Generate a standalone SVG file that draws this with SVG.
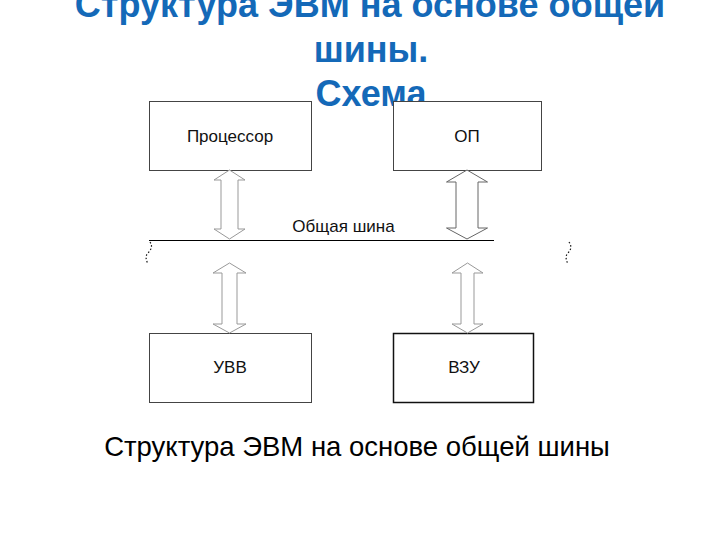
<svg xmlns="http://www.w3.org/2000/svg" width="720" height="540" viewBox="0 0 720 540">
<style>
.title{font-family:"Liberation Sans",Arial,sans-serif;font-weight:bold;font-size:36px;fill:#1469B8;text-anchor:middle}
.box{fill:#fff;stroke:#444;stroke-width:1}
.lbl{font-family:"Liberation Sans",Arial,sans-serif;font-size:17px;fill:#111;text-anchor:middle}
.arr{fill:#fff;stroke:#999;stroke-width:1}
.sq{fill:none;stroke:#111;stroke-width:1.2;stroke-dasharray:1.5 2}
</style>
<rect width="720" height="540" fill="#fff"/>
<g id="title">
<text class="title" x="370" y="17">Структура ЭВМ на основе общей</text>
<text class="title" x="371" y="62">шины.</text>
<text class="title" x="371" y="106">Схема</text>
</g>
<g id="processor"><rect class="box" x="149.5" y="101.5" width="162" height="69"/><text class="lbl" x="230" y="142">Процессор</text></g>
<g id="op"><rect class="box" x="393.5" y="101.5" width="148" height="69"/><text class="lbl" x="467" y="142">ОП</text></g>
<g id="uvv"><rect class="box" x="149.5" y="333.5" width="162" height="69"/><text class="lbl" x="230" y="373">УВВ</text></g>
<g id="vzu"><rect class="box" x="393.5" y="333.5" width="140" height="69" style="stroke:#111;stroke-width:1.5"/><text class="lbl" x="464" y="373">ВЗУ</text></g>
<g id="bus">
<line x1="149" y1="240.5" x2="494" y2="240.5" stroke="#000" stroke-width="1.2"/>
<text class="lbl" x="343.5" y="232">Общая шина</text>
<path class="sq" d="M150,242 C153,246 151,250 148,253 C145,256 146,260 148,264"/>
<path class="sq" d="M569,242 C572,246 571,250 568,253 C565,256 566,260 568,264"/>
</g>
<g id="connectors">
<path class="arr" d="M229.5,170 L245,180 L238,180 L238,229 L245,229 L229.5,239 L214,229 L221,229 L221,180 L214,180 Z"/>
<path class="arr" style="stroke:#666" d="M467,170 L487.5,182 L478,182 L478,228 L487.5,228 L467,239 L446.5,228 L456,228 L456,182 L446.5,182 Z"/>
<path class="arr" d="M229.5,263 L246,273 L237,273 L237,324 L246,324 L229.5,333 L213,324 L222,324 L222,273 L213,273 Z"/>
<path class="arr" d="M467.5,263 L483,273 L474,273 L474,324 L483,324 L467.5,333 L452,324 L461,324 L461,273 L452,273 Z"/>
</g>
<g id="caption">
<text x="357" y="456" style="font-family:'Liberation Sans',Arial,sans-serif;font-size:27.5px;fill:#000;text-anchor:middle">Структура ЭВМ на основе общей шины</text>
</g>
</svg>
